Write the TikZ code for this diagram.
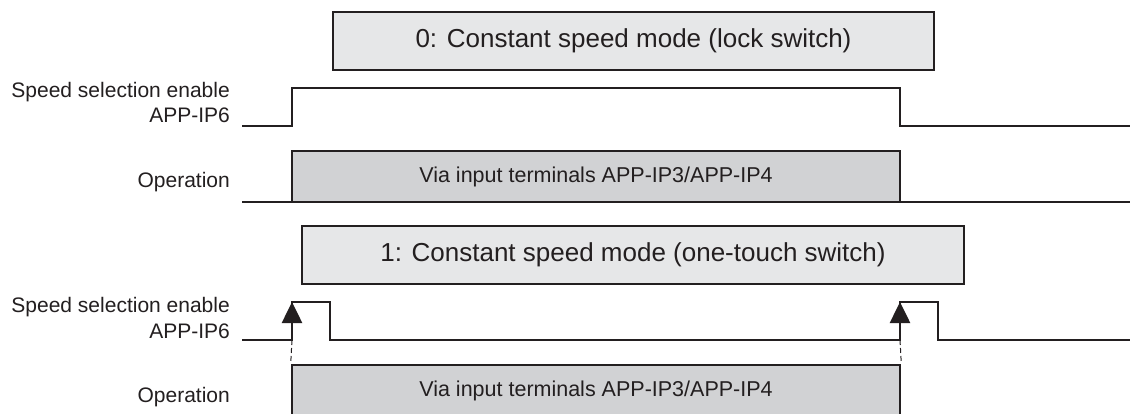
\documentclass[tikz,border=0pt]{standalone}
\usepackage{fontspec}
\setmainfont{Liberation Sans}
\usetikzlibrary{arrows.meta}
\definecolor{ink}{HTML}{231F20}
\definecolor{titlefill}{HTML}{E6E7E8}
\definecolor{opfill}{HTML}{D1D2D4}
\tikzset{
  sig/.style={draw=ink, line width=2.6pt, line join=miter},
  titlebox/.style={draw=ink, line width=1.3pt, fill=titlefill, minimum height=58pt, inner sep=0pt,
    font=\fontsize{26}{31}\selectfont, text=ink},
  opbox/.style={draw=ink, line width=2.6pt, fill=opfill, inner sep=0pt,
    font=\fontsize{21.5}{26}\selectfont, text=ink},
  lbl/.style={anchor=base east, inner sep=0pt, font=\fontsize{21}{25}\selectfont, text=ink},
  trig/.style={draw=ink, line width=2.6pt, -{Triangle[width=20pt,length=21pt]}},
  guide/.style={draw=ink, line width=1pt, dash pattern=on 5pt off 3pt},
}
\begin{document}
\begin{tikzpicture}[x=1pt,y=-1pt]
\clip (0,0) rectangle (1130,413);
\fill[white] (0,0) rectangle (1130,413);

% ---------- upper diagram ----------
\node[titlebox, minimum width=601pt] (t0) at (633.5,41) {0: Constant speed mode (lock switch)};

\node[lbl] (l0a) at (230,97) {Speed selection enable};
\node[lbl] (l0b) at (230,122) {APP-IP6};
\node[lbl] (l0c) at (230,187) {Operation};

\coordinate (s0a) at (242,126);
\coordinate (s0b) at (292,126);
\coordinate (s0c) at (292,88);
\coordinate (s0d) at (900,88);
\coordinate (s0e) at (900,126);
\coordinate (s0f) at (1130,126);
\draw[sig] (s0a) -- (s0b) -- (s0c) -- (s0d) -- (s0e) -- (s0f);

\node[opbox, minimum width=608pt, minimum height=51pt] (o0) at (596,176.5) {Via input terminals APP-IP3/APP-IP4};
\coordinate (b0a) at (242,202);
\coordinate (b0b) at (1130,202);
\draw[sig] (b0a) -- (b0b);

% ---------- lower diagram ----------
\node[titlebox, minimum width=662pt] (t1) at (633,255) {1: Constant speed mode (one-touch switch)};

\node[lbl] (l1a) at (230,312) {Speed selection enable};
\node[lbl] (l1b) at (230,338) {APP-IP6};
\node[lbl] (l1c) at (230,402) {Operation};

\coordinate (s1a) at (242,340);
\coordinate (s1b) at (292,340);
\coordinate (s1c) at (292,302);
\coordinate (s1d) at (330,302);
\coordinate (s1e) at (330,340);
\coordinate (s1f) at (900,340);
\coordinate (s1g) at (900,302);
\coordinate (s1h) at (938,302);
\coordinate (s1i) at (938,340);
\coordinate (s1j) at (1130,340);
\draw[sig] (s1a) -- (s1b) -- (s1c) -- (s1d) -- (s1e) -- (s1f) -- (s1g) -- (s1h) -- (s1i) -- (s1j);

\node[opbox, minimum width=608pt, minimum height=64pt] (o1) at (596,397) {};
\node[font=\fontsize{21.5}{26}\selectfont, text=ink, inner sep=0pt] (o1t) at (596,391) {Via input terminals APP-IP3/APP-IP4};

\coordinate (a1top) at (292,302);
\coordinate (a2top) at (900,302);
\draw[trig] (s1b) -- (a1top);
\draw[trig] (s1f) -- (a2top);
\draw[guide] (s1b) -- (o1.north west);
\draw[guide] (s1f) -- (o1.north east);
\end{tikzpicture}
\end{document}
